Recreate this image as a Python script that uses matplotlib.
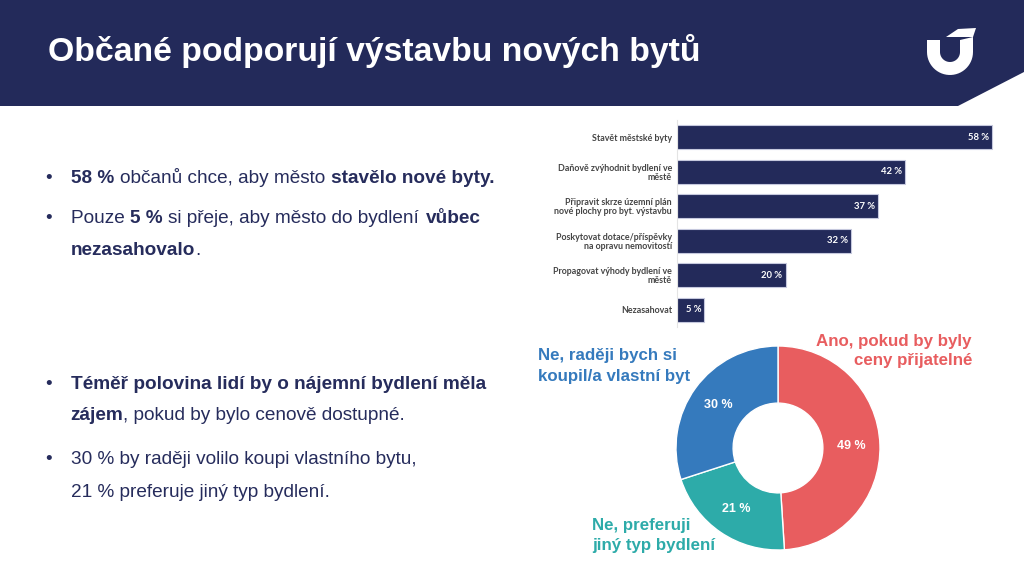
import matplotlib
matplotlib.use("Agg")
import matplotlib.pyplot as plt
from matplotlib.patches import Polygon
from matplotlib import font_manager
from matplotlib.ft2font import FT2Font
import numpy as np

# ---------------- data ----------------
categories = [
    "Stavět městské byty",
    "Daňově zvýhodnit bydlení ve\nměstě",
    "Připravit skrze územní plán\nnové plochy pro byt. výstavbu",
    "Poskytovat dotace/příspěvky\nna opravu nemovitostí",
    "Propagovat výhody bydlení ve\nměstě",
    "Nezasahovat",
]
support = [58, 42, 37, 32, 20, 5]

donut_names = ["Ano, pokud by byly ceny přijatelné",
               "Ne, preferuji jiný typ bydlení",
               "Ne, raději bych si koupil/a vlastní byt"]
donut_values = [49, 21, 30]

title = "Občané podporují výstavbu nových bytů"

NAVY = "#232a5a"
TEXT = "#262c5c"
RED = "#e85d5f"
TEAL = "#2daba9"
BLUE = "#357abd"
donut_colors = [RED, TEAL, BLUE]

W, H = 1024, 576
DPI = 100
fig = plt.figure(figsize=(W / DPI, H / DPI), dpi=DPI)
fig.patch.set_facecolor("white")

# background axes in pixel coordinates (origin top-left)
bg = fig.add_axes([0, 0, 1, 1])
bg.set_xlim(0, W)
bg.set_ylim(H, 0)
bg.axis("off")

# header band with diagonal cut
bg.add_patch(Polygon([(0, 0), (W, 0), (W, 72), (958, 106), (0, 106)],
                     closed=True, facecolor=NAVY, edgecolor="none"))

# logo (white U with accent)
cx, cy, ro, ri = 950, 52, 23, 10
th_o = np.linspace(np.pi, 0, 30)
th_i = np.linspace(0, np.pi, 30)
pts = [(cx - ro, 40)]
pts += [(cx + ro * np.cos(t), cy + ro * np.sin(t)) for t in th_o]
pts += [(cx + ro, 37), (cx + ri, 40)]
pts += [(cx + ri * np.cos(t), cy + ri * np.sin(t)) for t in th_i]
pts += [(cx - ri, 40)]
bg.add_patch(Polygon(pts, closed=True, facecolor="white", edgecolor="none"))
bg.add_patch(Polygon([(946, 37), (958, 29), (976, 28), (973, 37)],
                     closed=True, facecolor="white", edgecolor="none"))

bg.text(48, 61, title, color="white", fontsize=24.3, fontweight="bold",
        family="Liberation Sans", va="baseline", ha="left")

# ---------------- rich body text ----------------
BODY_SIZE = 13.7
BODY = dict(family="Liberation Sans", fontsize=BODY_SIZE, color=TEXT)
_fonts = {}
for bold in (False, True):
    path = font_manager.findfont(font_manager.FontProperties(
        family="Liberation Sans", weight="bold" if bold else "normal"))
    f = FT2Font(path, hinting_factor=1)
    f.set_size(BODY_SIZE, DPI)
    _fonts[bold] = f


def adv(s, bold):
    f = _fonts[bold]
    return sum(f.load_char(ord(c)).linearHoriAdvance / 65536.0 for c in s)


def rich_line(x, y, runs, bullet=False):
    if bullet:
        bg.text(45, y, "•", va="baseline", ha="left", **BODY)
    for s, b in runs:
        core = s.lstrip(" ")
        x += adv(s[:len(s) - len(core)], b)
        bg.text(x, y, core, va="baseline", ha="left",
                fontweight="bold" if b else "normal", **BODY)
        x += adv(core, b)


X0 = 71
rich_line(X0, 183, [("58 %", True), (" občanů chce, aby město ", False),
                    ("stavělo nové byty.", True)], bullet=True)
rich_line(X0, 223, [("Pouze ", False), ("5 %", True),
                    (" si přeje, aby město do bydlení ", False), ("vůbec", True)],
          bullet=True)
rich_line(X0, 255, [("nezasahovalo", True), (".", False)])
rich_line(X0, 389, [("Téměř polovina lidí by o nájemní bydlení měla", True)],
          bullet=True)
rich_line(X0 - 1, 420, [("zájem", True), (", pokud by bylo cenově dostupné.", False)])
rich_line(X0, 464, [("30 % by raději volilo koupi vlastního bytu,", False)],
          bullet=True)
rich_line(X0, 497, [("21 % preferuje jiný typ bydlení.", False)])

# ---------------- bar chart ----------------
bx0, bx1, by0, by1 = 677, 1000, 120, 327
axb = fig.add_axes([bx0 / W, 1 - by1 / H, (bx1 - bx0) / W, (by1 - by0) / H])
ypos = np.arange(len(categories))
axb.barh(ypos, support, height=0.70, color=NAVY, edgecolor="#c5c8dd",
         linewidth=0.8)
axb.set_xlim(0, (bx1 - bx0) / 5.426)
axb.set_ylim(len(categories) - 0.5, -0.5)
axb.set_yticks(ypos)
axb.set_yticklabels(categories, family="Lato", fontweight="bold",
                    fontsize=6.4, color="#454545", linespacing=1.0)
axb.tick_params(axis="y", length=0, pad=3.6)
axb.set_xticks([])
for s in ["top", "right", "bottom"]:
    axb.spines[s].set_visible(False)
axb.spines["left"].set_color("#e4e4e4")
axb.spines["left"].set_linewidth(0.8)
axb.patch.set_alpha(0)
for i, v in enumerate(support):
    axb.annotate(f"{v} %", xy=(v, i), xytext=(-2.2, 0),
                 textcoords="offset points", ha="right", va="center",
                 color="white", fontsize=6.8, fontweight="bold", family="Lato")

# ---------------- donut ----------------
dcx, dcy, R = 778, 448, 102
axd = fig.add_axes([(dcx - R) / W, 1 - (dcy + R) / H, 2 * R / W, 2 * R / H])
axd.pie(donut_values, colors=donut_colors, startangle=90, counterclock=False,
        radius=1.0, wedgeprops=dict(width=0.56, edgecolor="white", linewidth=1),
        autopct=lambda p: f"{p:.0f} %", pctdistance=0.72,
        textprops=dict(color="white", fontsize=9, fontweight="bold",
                       family="Liberation Sans"))
axd.set_xlim(-1, 1)
axd.set_ylim(-1, 1)
axd.set_aspect("equal")
axd.axis("off")

LBL = dict(family="Liberation Sans", fontsize=12.2, fontweight="bold",
           va="baseline")
bg.text(972, 346, "Ano, pokud by byly", color=RED, ha="right", **LBL)
bg.text(972, 365, "ceny přijatelné", color=RED, ha="right", **LBL)
bg.text(538, 360, "Ne, raději bych si", color=BLUE, ha="left", **LBL)
bg.text(538, 381, "koupil/a vlastní byt", color=BLUE, ha="left", **LBL)
bg.text(592, 530, "Ne, preferuji", color=TEAL, ha="left", **LBL)
bg.text(592, 550, "jiný typ bydlení", color=TEAL, ha="left", **LBL)

fig.savefig("out.png", dpi=DPI)
